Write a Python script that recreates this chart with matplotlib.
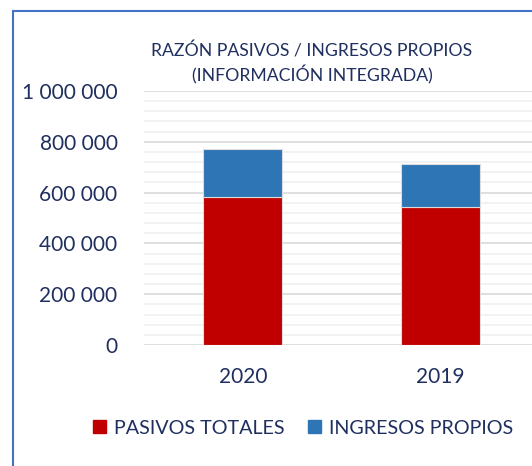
import matplotlib
matplotlib.use("Agg")
import matplotlib.pyplot as plt
from matplotlib.patches import Rectangle
from matplotlib.ticker import MultipleLocator, FuncFormatter

years = ["2020", "2019"]
pasivos = [583000, 544000]
ingresos = [190000, 167000]
series_names = ["PASIVOS TOTALES", "INGRESOS PROPIOS"]
title_lines = ["RAZÓN PASIVOS / INGRESOS PROPIOS", "(INFORMACIÓN INTEGRADA)"]

red = "#C00000"
blue = "#2E75B6"
txt = "#1F2F5F"

plt.rcParams['font.family'] = ['Lato', 'DejaVu Sans']

fig = plt.figure(figsize=(5.32, 4.66), dpi=100)
W, H = 532, 466
ax = fig.add_axes([144 / W, 1 - 345 / H, (539.5 - 144) / W, (345 - 91) / H])

x = range(len(years))
ax.bar(x, pasivos, width=0.4, color=red, edgecolor="#dcdcdc", linewidth=0.8, zorder=3)
ax.bar(x, ingresos, width=0.4, bottom=pasivos, color=blue, edgecolor="#dcdcdc", linewidth=0.8, zorder=3)

ax.set_xlim(-0.5, 1.5)
ax.set_ylim(0, 1000000)
ax.yaxis.set_major_locator(MultipleLocator(200000))
ax.yaxis.set_minor_locator(MultipleLocator(40000))
ax.yaxis.set_major_formatter(FuncFormatter(lambda v, p: f"{int(v):,}".replace(",", " ")))
ax.grid(axis="y", which="major", color="#d9d9d9", linewidth=1.2, zorder=0)
ax.grid(axis="y", which="minor", color="#f0f0f0", linewidth=1.2, zorder=0)
for s in ax.spines.values():
    s.set_visible(False)
ax.tick_params(axis="both", which="both", length=0)
ax.tick_params(axis="y", labelsize=15, labelcolor=txt, pad=19)
ax.tick_params(axis="x", labelsize=15, labelcolor=txt, pad=16)
ax.set_xticks(list(x))
ax.set_xticklabels(years)
for lbl in ax.get_yticklabels():
    lbl.set_clip_on(False)

fig.text(312 / W, 1 - 51 / H, title_lines[0], ha="center", va="center", fontsize=12.7, color=txt)
fig.text(312 / W, 1 - 75 / H, title_lines[1], ha="center", va="center", fontsize=12.7, color=txt)

# frame
fig.add_artist(plt.Line2D([12.5 / W, 12.5 / W], [0, 1 - 11 / H], color="#4472C4", linewidth=1.5))
fig.add_artist(plt.Line2D([12.5 / W, 1], [1 - 11 / H, 1 - 11 / H], color="#4472C4", linewidth=1.5))

handles = [Rectangle((0, 0), 1, 1, color=red), Rectangle((0, 0), 1, 1, color=blue)]
fig.legend(handles, series_names, loc="center", bbox_to_anchor=(303 / W, 1 - 428 / H),
           ncol=2, frameon=False, fontsize=14.2, labelcolor=txt, handlelength=0.65,
           handleheight=0.65, handletextpad=0.4, columnspacing=1.2)

fig.savefig("out.png", dpi=100)
